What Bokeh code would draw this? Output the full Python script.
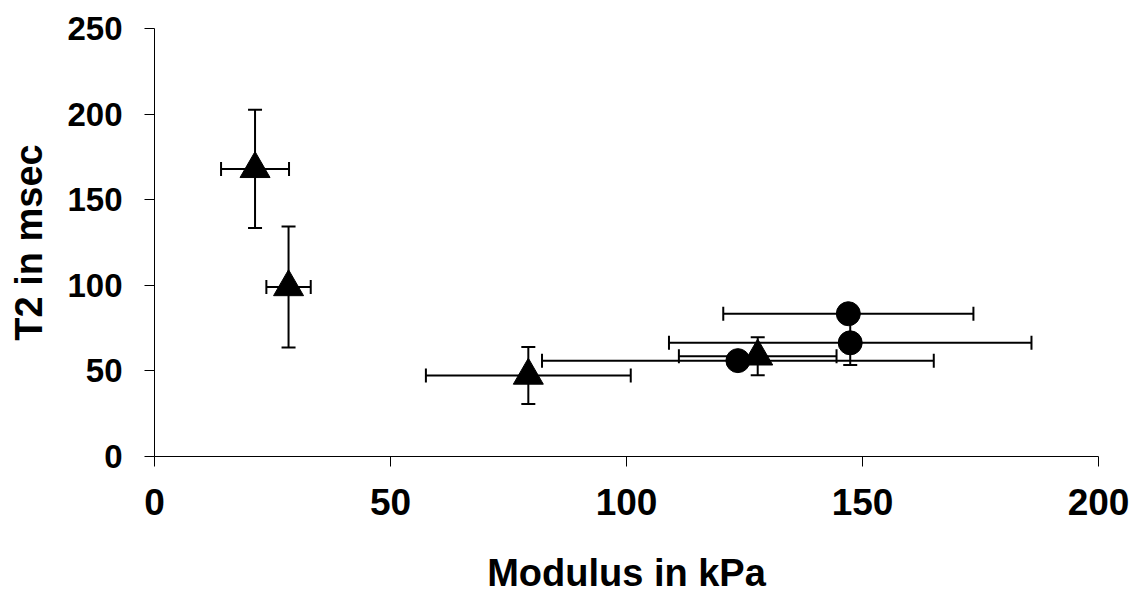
from bokeh.plotting import figure
from bokeh.models import ColumnDataSource, Whisker, TeeHead, Range1d, FixedTicker
from bokeh.embed import file_html
from bokeh.resources import INLINE

# Triangle series: modulus (kPa) vs T2 (msec) with standard deviations
tri_modulus = [21.3, 28.4, 79.2, 127.8]
tri_modulus_sd = [7.2, 4.7, 21.7, 16.7]
tri_t2 = [168, 99, 47.3, 58.5]
tri_t2_sd = [34.5, 35.3, 16.6, 11.1]

# Circle series
circ_modulus = [147.0, 147.4, 123.6]
circ_modulus_sd = [26.5, 38.4, 41.5]
circ_t2 = [83.4, 66.4, 56.0]
circ_t2_sd = [4, 13, 3]

x_ticks = [0, 50, 100, 150, 200]
y_ticks = [0, 50, 100, 150, 200, 250]

FONT = "Liberation Sans"


def with_bounds(xs, xsd, ys, ysd):
    return ColumnDataSource(dict(
        x=xs, y=ys,
        x_lo=[a - b for a, b in zip(xs, xsd)], x_hi=[a + b for a, b in zip(xs, xsd)],
        y_lo=[a - b for a, b in zip(ys, ysd)], y_hi=[a + b for a, b in zip(ys, ysd)],
    ))


tri_src = with_bounds(tri_modulus, tri_modulus_sd, tri_t2, tri_t2_sd)
circ_src = with_bounds(circ_modulus, circ_modulus_sd, circ_t2, circ_t2_sd)

p = figure(width=1139, height=597, output_backend="svg", toolbar_location=None,
           x_range=Range1d(0, 200), y_range=Range1d(0, 250),
           min_border_left=154, min_border_right=41, min_border_top=28, min_border_bottom=141)
p.outline_line_color = None
p.grid.visible = False
p.background_fill_color = "white"
p.border_fill_color = "white"

for src in (circ_src, tri_src):
    p.add_layout(Whisker(source=src, base="x", lower="y_lo", upper="y_hi", dimension="height",
                         line_color="black", line_width=2,
                         lower_head=TeeHead(size=14, line_width=2, line_color="black"),
                         upper_head=TeeHead(size=14, line_width=2, line_color="black")))
    p.add_layout(Whisker(source=src, base="y", lower="x_lo", upper="x_hi", dimension="width",
                         line_color="black", line_width=2,
                         lower_head=TeeHead(size=14, line_width=2, line_color="black"),
                         upper_head=TeeHead(size=14, line_width=2, line_color="black")))

p.scatter("x", "y", source=circ_src, marker="circle", size=24, fill_color="black", line_color="black")
p.scatter("x", "y", source=tri_src, marker="triangle", size=30, fill_color="black", line_color="black")

p.xaxis.ticker = FixedTicker(ticks=x_ticks)
p.yaxis.ticker = FixedTicker(ticks=y_ticks)
for ax in (p.xaxis[0], p.yaxis[0]):
    ax.axis_line_color = "black"
    ax.axis_line_width = 1
    ax.major_tick_line_color = "black"
    ax.major_tick_in = 0
    ax.major_tick_out = 10
    ax.minor_tick_line_color = None
    ax.major_label_text_font = FONT
    ax.major_label_text_font_style = "bold"
    ax.major_label_text_color = "black"
    ax.axis_label_text_font = FONT
    ax.axis_label_text_font_style = "bold"
    ax.axis_label_text_color = "black"

p.xaxis.major_label_text_font_size = "37px"
p.yaxis.major_label_text_font_size = "33px"
p.xaxis.axis_label_text_font_size = "38px"
p.yaxis.axis_label_text_font_size = "38px"

p.xaxis.axis_label = "Modulus in kPa"
p.yaxis.axis_label = "T2 in msec"
p.xaxis.major_label_standoff = 22
p.yaxis.major_label_standoff = 22
p.xaxis.axis_label_standoff = 34
p.yaxis.axis_label_standoff = 14

open("out.html", "w").write(file_html(p, INLINE))
